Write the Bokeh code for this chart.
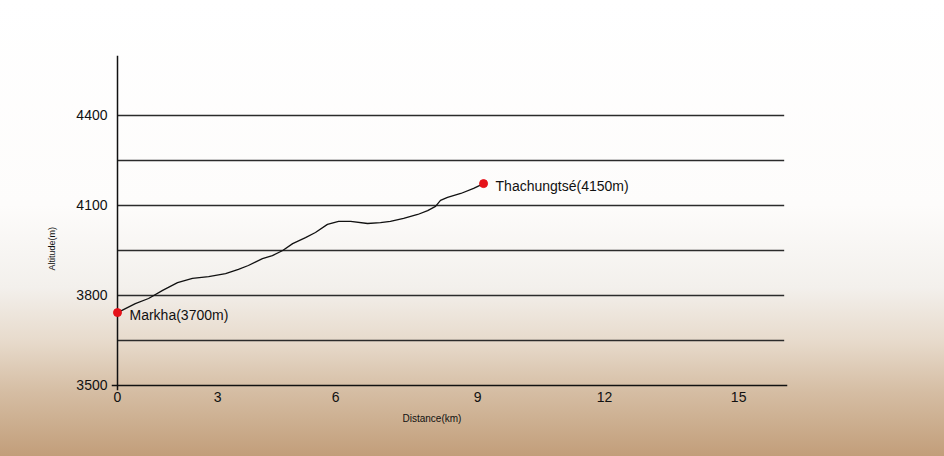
from bokeh.plotting import figure
from bokeh.models import Range1d, FixedTicker, Title, ColumnDataSource
from bokeh.core.properties import value
from bokeh.embed import file_html
from bokeh.resources import INLINE

# ---- data ----
distance_km = [0.0, 0.43, 0.75, 1.09, 1.45, 1.81, 2.20, 2.61, 2.92, 3.16, 3.50, 3.74,
               3.99, 4.23, 4.54, 4.78, 5.07, 5.34, 5.63, 6.04, 6.35, 6.59, 6.91, 7.25,
               7.49, 7.68, 7.80, 7.97, 8.29, 8.60, 8.84]
altitude_m = [3743, 3773, 3790, 3817, 3843, 3857, 3863, 3873, 3887, 3900, 3923, 3933,
              3950, 3973, 3993, 4010, 4037, 4047, 4047, 4040, 4043, 4047, 4057, 4070,
              4083, 4097, 4117, 4127, 4140, 4157, 4173]

stop_names = ["Markha(3700m)", "Thachungtsé(4150m)"]
stop_km = [distance_km[0], distance_km[-1]]
stop_alt = [altitude_m[0], altitude_m[-1]]

x_tick_km = [0, 2.42, 5.27, 8.70, 11.76, 15.0]
x_tick_labels = ["0", "3", "6", "9", "12", "15"]
y_ticks = [3500, 3800, 4100, 4400]
grid_levels = [3650, 3800, 3950, 4100, 4250, 4400]
grid_end_km = 16.1

X_MIN, X_MAX = -0.145, 16.18
Y_MIN, Y_MAX = 3483.3, 4600

FONT = "Liberation Sans"

p = figure(width=944, height=456, output_backend="svg", toolbar_location=None,
           x_range=Range1d(X_MIN, X_MAX), y_range=Range1d(Y_MIN, Y_MAX),
           min_border_left=111, min_border_right=157, min_border_top=55,
           min_border_bottom=66)
p.background_fill_color = None
p.border_fill_color = None
p.outline_line_color = None
p.grid.visible = False

# horizontal reference lines
p.segment(x0=[0] * len(grid_levels), x1=[grid_end_km] * len(grid_levels),
          y0=grid_levels, y1=grid_levels, line_color="#2b2b2b", line_width=1.3)

# axis lines crossing at the origin
p.segment(x0=[0, X_MIN], x1=[0, X_MAX], y0=[Y_MIN, 3500], y1=[Y_MAX, 3500],
          line_color="#111111", line_width=1.5)

# axes (labels only)
for ax in (p.xaxis[0], p.yaxis[0]):
    ax.axis_line_color = None
    ax.major_tick_line_color = None
    ax.minor_tick_line_color = None
    ax.major_tick_out = 0
    ax.major_tick_in = 0
    ax.major_label_text_font = FONT
    ax.major_label_text_font_size = "14px"
    ax.major_label_text_color = "#111111"

p.yaxis[0].ticker = FixedTicker(ticks=y_ticks)
p.yaxis[0].major_label_standoff = 4
p.xaxis[0].ticker = FixedTicker(ticks=x_tick_km)
p.xaxis[0].major_label_overrides = {k: lab for k, lab in zip(x_tick_km, x_tick_labels)}
p.xaxis[0].major_label_standoff = 1

# profile line
p.line(distance_km, altitude_m, line_color="#111111", line_width=1.3,
       line_join="round")

# stops
src = ColumnDataSource(dict(x=stop_km, y=stop_alt, name=stop_names))
p.scatter("x", "y", source=src, size=8, fill_color="#e5121a", line_color="#e5121a")
p.text("x", "y", text="name", source=src, x_offset=12, y_offset=2,
       text_font=value(FONT), text_font_size="14px", text_color="#111111",
       text_baseline="middle", text_align="left")

# axis titles
p.add_layout(Title(text="Distance(km)", align="left", offset=291, standoff=12,
                   text_font=FONT, text_font_size="10px", text_font_style="normal",
                   text_color="#111111"), "below")
p.add_layout(Title(text="Altitude(m)", align="left", offset=120, standoff=34,
                   text_font=FONT, text_font_size="9px", text_font_style="normal",
                   text_color="#111111"), "left")

html = file_html(p, INLINE)
style = ("<style>html{height:100%;background:linear-gradient(to bottom,"
         "#ffffff 0%,#fdfcfb 45%,#f3f0ec 63%,#e7dacb 75%,#d5bda3 86%,#c29e7a 100%);}"
         "body{background:transparent;}</style></head>")
html = html.replace("</head>", style, 1)
open("out.html", "w").write(html)
